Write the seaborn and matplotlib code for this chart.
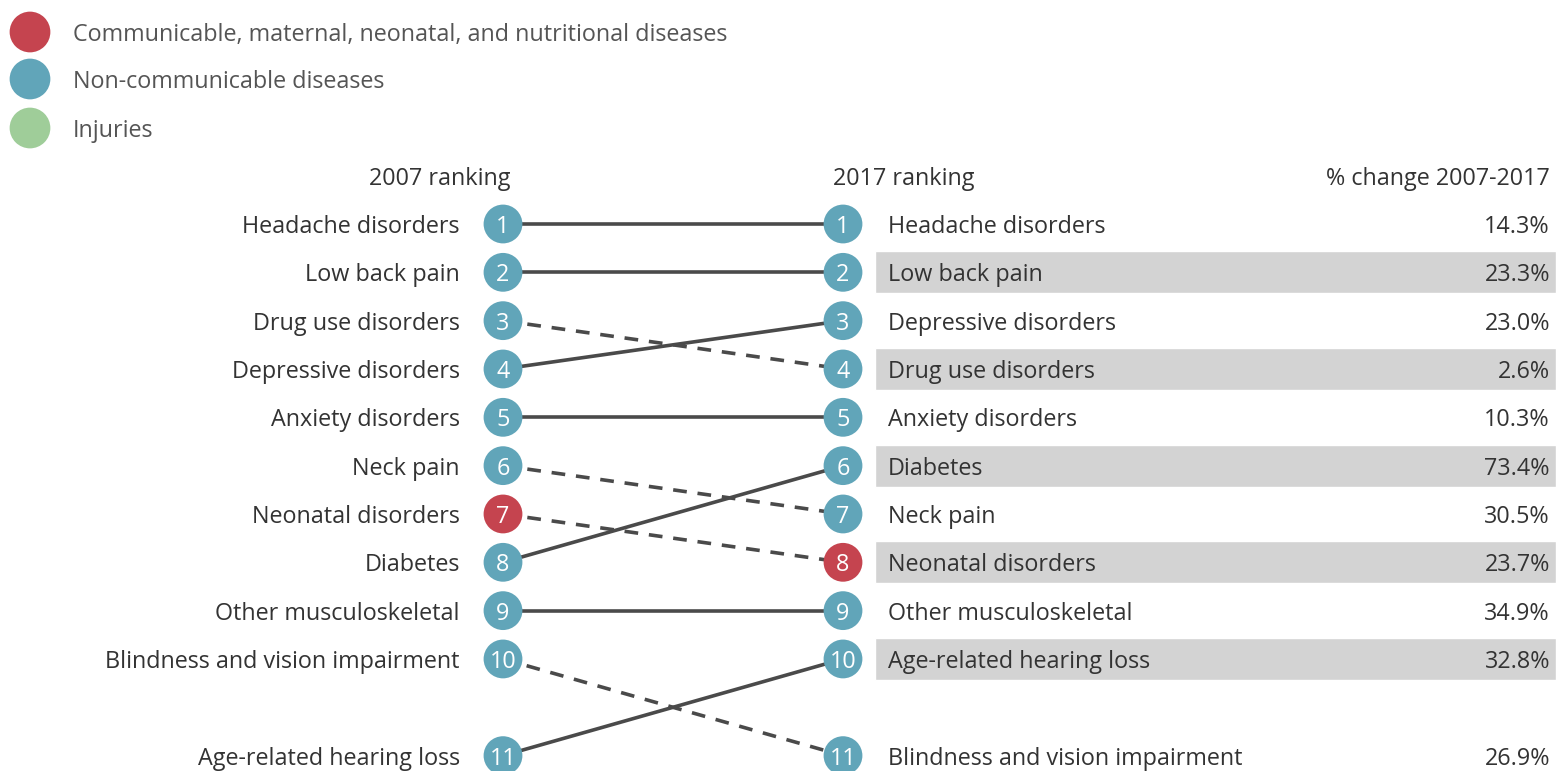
import matplotlib
matplotlib.use("Agg")
import matplotlib.pyplot as plt
import seaborn as sns
import pandas as pd

# ---- data ----
causes = ["Headache disorders", "Low back pain", "Drug use disorders",
          "Depressive disorders", "Anxiety disorders", "Neck pain",
          "Neonatal disorders", "Diabetes", "Other musculoskeletal",
          "Blindness and vision impairment", "Age-related hearing loss"]
rank_2007 = [1, 2, 3, 4, 5, 6, 7, 8, 9, 10, 11]
rank_2017 = [1, 2, 4, 3, 5, 7, 8, 6, 9, 11, 10]
groups = ["Non-communicable diseases"] * 6 + ["Communicable, maternal, neonatal, and nutritional diseases"] + ["Non-communicable diseases"] * 4
pct_change = [14.3, 23.3, 2.6, 23.0, 10.3, 30.5, 23.7, 73.4, 34.9, 26.9, 32.8]
legend_groups = ["Communicable, maternal, neonatal, and nutritional diseases",
                 "Non-communicable diseases", "Injuries"]
headers = ["2007 ranking", "2017 ranking", "% change 2007-2017"]

palette = {"Communicable, maternal, neonatal, and nutritional diseases": "#C5444F",
           "Non-communicable diseases": "#61A5B9",
           "Injuries": "#9FCD99"}

sns.set_style("white")
plt.rcParams['font.family'] = ['Open Sans', 'DejaVu Sans']
TXT = "#333333"
FS = 16.8

W, H = 1556, 771
fig = plt.figure(figsize=(W / 100, H / 100), dpi=100)
ax = fig.add_axes([0, 0, 1, 1])
ax.set_xlim(0, W)
ROW0, STEP = 224, 48.33
ax.set_ylim(1 + (H - ROW0) / STEP, 1 - ROW0 / STEP)
ax.axis("off")

def py(p):
    return 1 + (p - ROW0) / STEP

def slot(r):
    return r if r <= 10 else r + 1

XL, XR = 503, 843

df = pd.DataFrame({"cause": causes, "r07": rank_2007, "r17": rank_2017,
                   "group": groups, "pct": pct_change})
df["s07"] = df["r07"].map(slot)
df["s17"] = df["r17"].map(slot)

# bands on even 2017 rows
for r in sorted(df["r17"]):
    if r % 2 == 0:
        ax.barh(slot(r), W - 875, left=875, height=0.87, color="#D3D3D3", zorder=0)

# slope lines
for _, row in df.iterrows():
    ls = "--" if row.r17 > row.r07 else "-"
    ax.plot([XL, XR], [row.s07, row.s17], color="#4A4A4A", lw=2.6,
            ls=ls, dashes=(3.8, 3) if ls == "--" else (None, None), zorder=1,
            solid_capstyle="butt")

# circles
left = pd.DataFrame({"x": XL, "y": df["s07"], "group": df["group"]})
right = pd.DataFrame({"x": XR, "y": df["s17"], "group": df["group"]})
both = pd.concat([left, right])
sns.scatterplot(data=both, x="x", y="y", hue="group", palette=palette, s=780,
                linewidth=0, ax=ax, legend=False, zorder=3)

for _, row in df.iterrows():
    ax.text(XL, row.s07, str(row.r07), color="white", fontsize=FS, ha="center",
            va="center_baseline", zorder=4)
    ax.text(XR, row.s17, str(row.r17), color="white", fontsize=FS, ha="center",
            va="center_baseline", zorder=4)
    ax.text(460, row.s07, row.cause, color=TXT, fontsize=FS, ha="right",
            va="center_baseline")
    ax.text(888, row.s17, row.cause, color=TXT, fontsize=FS, ha="left",
            va="center_baseline")
    ax.text(1550, row.s17, f"{row.pct:.1f}%", color=TXT, fontsize=FS, ha="right",
            va="center_baseline")

# headers
hy = py(176)
ax.text(440, hy, headers[0], color=TXT, fontsize=FS, ha="center", va="center_baseline")
ax.text(833, hy, headers[1], color=TXT, fontsize=FS, ha="left", va="center_baseline")
ax.text(1550, hy, headers[2], color=TXT, fontsize=FS, ha="right", va="center_baseline")

# legend
leg = pd.DataFrame({"x": [30] * 3, "y": [py(32), py(79), py(128)], "group": legend_groups})
sns.scatterplot(data=leg, x="x", y="y", hue="group", palette=palette, s=860,
                linewidth=0, ax=ax, legend=False, zorder=3)
for _, row in leg.iterrows():
    ax.text(73, row.y, row.group, color="#555555", fontsize=FS, ha="left",
            va="center_baseline")

fig.savefig("out.png", dpi=100)
